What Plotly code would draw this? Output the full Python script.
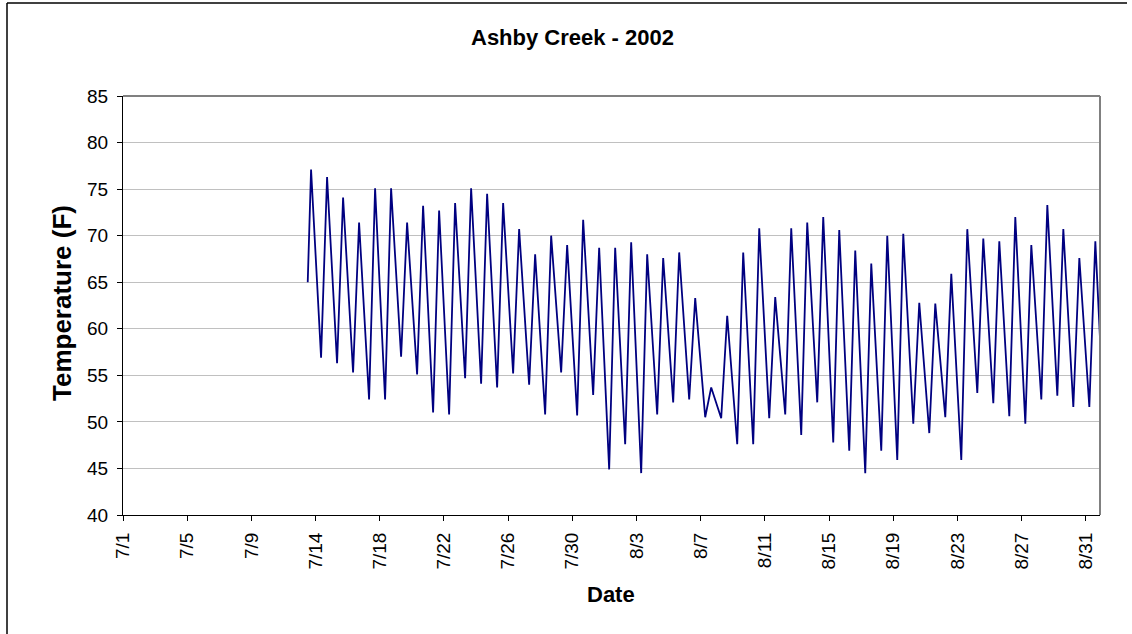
import datetime as dt
import plotly.graph_objects as go

# ---- data (daily maxima / minima, deg F) ----
first_day = "2002-07-13"
start_time = "2002-07-13 12:00"
start_temp = 65.0
end_time = "2002-09-01 00:00"
end_temp = 59.0

# afternoon maxima, one per day from 7/13 to 8/31
daily_max = [77.1, 76.3, 74.1, 71.4, 75.1, 75.1, 71.4, 73.2, 72.7, 73.5,
             75.1, 74.5, 73.5, 70.7, 68.0, 70.0, 69.0, 71.7, 68.7, 68.7,
             69.3, 68.0, 67.6, 68.2, 63.3, 53.7, 61.4, 68.2, 70.8, 63.4,
             70.8, 71.4, 72.0, 70.6, 68.4, 67.0, 70.0, 70.2, 62.8, 62.7,
             65.9, 70.7, 69.7, 69.4, 72.0, 69.0, 73.3, 70.7, 67.6, 69.4]
# morning minima, one per day from 7/14 to 8/31
daily_min = [56.9, 56.3, 55.3, 52.4, 52.4, 57.0, 55.1, 51.0, 50.8, 54.7,
             54.1, 53.7, 55.2, 54.0, 50.8, 55.3, 50.7, 52.9, 44.9, 47.6,
             44.5, 50.8, 52.1, 52.4, 50.5, 50.4, 47.6, 47.6, 50.4, 50.8,
             48.6, 52.1, 47.8, 46.9, 44.5, 46.9, 45.9, 49.8, 48.8, 50.5,
             45.9, 53.1, 52.0, 50.6, 49.8, 52.4, 52.8, 51.6, 51.6]

tick_labels = ["7/1", "7/5", "7/9", "7/14", "7/18", "7/22", "7/26", "7/30",
               "8/3", "8/7", "8/11", "8/15", "8/19", "8/23", "8/27", "8/31"]
y_ticks = [40, 45, 50, 55, 60, 65, 70, 75, 80, 85]

# ---- build the trace (max ~17:00, min ~08:00) ----
MAX_HOUR, MIN_HOUR = 17, 8
d0 = dt.datetime.fromisoformat(first_day)
xs = [dt.datetime.fromisoformat(start_time)]
ys = [start_temp]
for i, vmax in enumerate(daily_max):
    xs.append(d0 + dt.timedelta(days=i, hours=MAX_HOUR))
    ys.append(vmax)
    if i < len(daily_min):
        xs.append(d0 + dt.timedelta(days=i + 1, hours=MIN_HOUR))
        ys.append(daily_min[i])
xs.append(dt.datetime.fromisoformat(end_time))
ys.append(end_temp)

# axis range and tick positions (Excel-style fractional major unit)
x_lo = dt.datetime(2002, 7, 1, 23, 0)
x_hi = dt.datetime(2002, 9, 1, 0, 0)
tick_step = 4.01
tick_vals = [x_lo + dt.timedelta(days=tick_step * k) for k in range(len(tick_labels))]

FONT = "Liberation Sans, Arial, sans-serif"
ML, MR, MT, MB = 123, 32, 96, 119
W, H = 1132, 634
PW, PH = W - ML - MR, H - MT - MB


def px(xp):
    return (xp - ML) / PW


def py(yp):
    return (H - MB - yp) / PH


fig = go.Figure()
fig.add_trace(go.Scatter(x=xs, y=ys, mode="lines",
                         line=dict(color="#000080", width=1.8),
                         showlegend=False, hoverinfo="x+y"))

fig.update_layout(
    width=W, height=H,
    margin=dict(l=ML, r=MR, t=MT, b=MB),
    paper_bgcolor="white", plot_bgcolor="white",
    font=dict(family=FONT, color="black"),
    xaxis=dict(type="date", range=[x_lo, x_hi], tickmode="array",
               tickvals=tick_vals, ticktext=tick_labels, tickangle=-90,
               tickfont=dict(size=19, family=FONT), ticks="outside", ticklen=5,
               tickcolor="black", showline=True, linecolor="black", linewidth=1,
               ticklabelstandoff=4,
               showgrid=False, zeroline=False),
    yaxis=dict(range=[40, 85], tickmode="array", tickvals=y_ticks,
               tickfont=dict(size=19, family=FONT), ticks="outside", ticklen=5,
               tickcolor="black", showline=True, linecolor="black", linewidth=1,
               ticklabelstandoff=5,
               showgrid=True, gridcolor="#c0c0c0", gridwidth=1, zeroline=False),
)

# plot-area frame (top/right in grey), outer chart border (left/top)
fig.add_shape(type="line", xref="paper", yref="paper", x0=0, x1=1, y0=1, y1=1,
              line=dict(color="#808080", width=2))
fig.add_shape(type="line", xref="paper", yref="paper", x0=1, x1=1, y0=0, y1=1,
              line=dict(color="#808080", width=2))
fig.add_shape(type="line", xref="paper", yref="paper", x0=px(7), x1=px(1127),
              y0=py(3), y1=py(3), line=dict(color="black", width=1.5))
fig.add_shape(type="line", xref="paper", yref="paper", x0=px(7), x1=px(7),
              y0=py(3), y1=py(640), line=dict(color="black", width=1.5))

fig.add_annotation(text="<b>Ashby Creek - 2002</b>", xref="paper", yref="paper",
                   x=px(572), y=py(37), showarrow=False,
                   font=dict(size=22, family=FONT), xanchor="center", yanchor="middle")
fig.add_annotation(text="<b>Date</b>", xref="paper", yref="paper",
                   x=px(611), y=py(594), showarrow=False,
                   font=dict(size=22, family=FONT), xanchor="center", yanchor="middle")
fig.add_annotation(text="<b>Temperature (F)</b>", xref="paper", yref="paper",
                   x=px(62), y=py(303), showarrow=False, textangle=-90,
                   font=dict(size=26, family=FONT), xanchor="center", yanchor="middle")

fig.write_html("out.html", config={"displayModeBar": False},
               post_script="document.body.style.margin='0';document.body.style.overflow='hidden';")
